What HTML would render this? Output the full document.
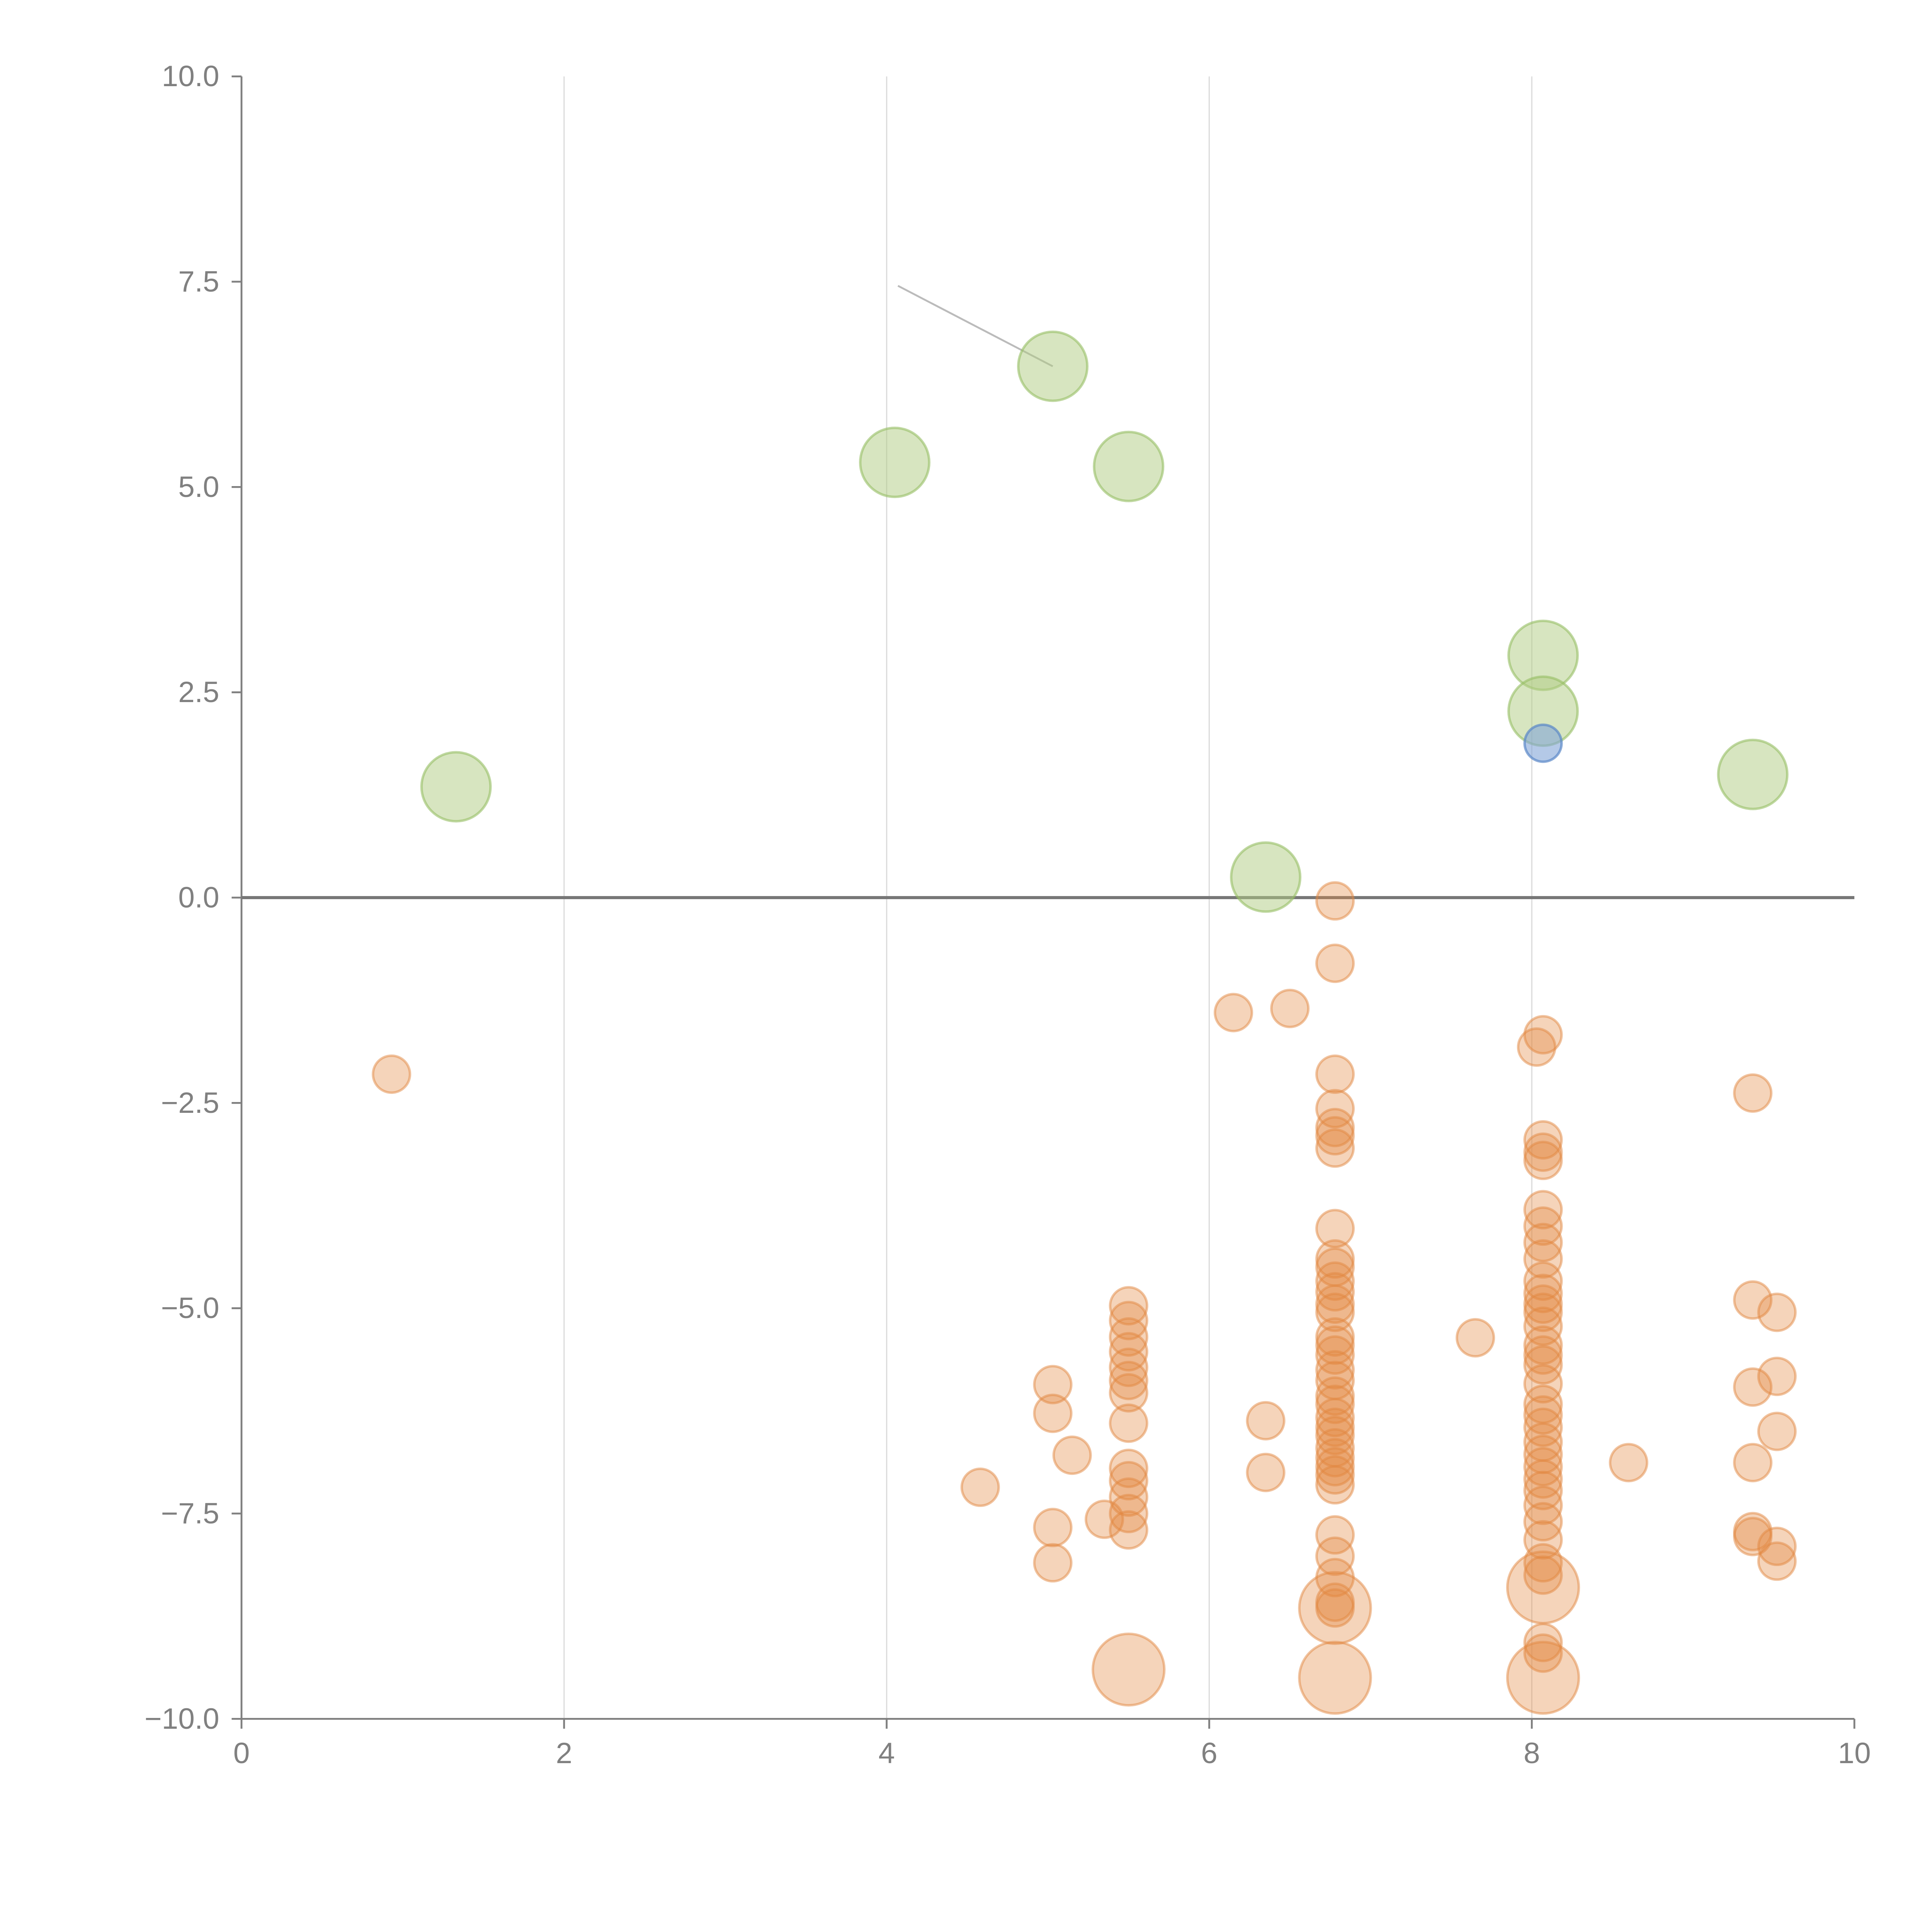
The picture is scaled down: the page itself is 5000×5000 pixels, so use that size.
<!DOCTYPE html>
<html><head><meta charset="utf-8"><style>
html,body{margin:0;padding:0;background:#fff}
svg{display:block}
text{font-family:"Liberation Sans",sans-serif;fill:#808080}
</style></head><body>
<svg id="chart" width="5000" height="5000" viewBox="0 0 1568 1568" xmlns="http://www.w3.org/2000/svg">
<g id="grid"></g>
<g id="axes"></g>
<g id="marks"></g>
</svg>
<script>
const xTicks=[0,2,4,6,8,10];
const yTicks=[-10,-7.5,-5,-2.5,0,2.5,5,7.5,10];
const greenX=[1.33,4.05,5.03,5.5,6.35,8.07,8.07,9.37];
const greenY=[1.35,5.3,6.47,5.25,0.25,2.95,2.27,1.5];
const blueX=[8.07];
const blueY=[1.88];
const bigX=[5.5,6.78,6.78,8.07,8.07];
const bigY=[-9.4,-8.65,-9.5,-8.4,-9.5];
const col678Y=[-0.04,-0.8,-2.15,-2.57,-2.8,-2.9,-3.05,-4.03,-4.4,-4.5,-4.67,-4.8,-4.95,-5.05,-5.35,-5.45,-5.57,-5.75,-5.88,-6.07,-6.17,-6.33,-6.45,-6.55,-6.7,-6.82,-6.93,-7.03,-7.15,-7.76,-8.02,-8.28,-8.58,-8.65];
const col55Y=[-4.97,-5.15,-5.35,-5.53,-5.72,-5.88,-6.03,-6.4,-6.95,-7.1,-7.3,-7.5,-7.7];
const col807Y=[-1.67,-2.95,-3.1,-3.2,-3.8,-4.0,-4.2,-4.4,-4.67,-4.82,-4.95,-5.05,-5.22,-5.45,-5.57,-5.69,-5.92,-6.17,-6.3,-6.45,-6.63,-6.78,-6.93,-7.08,-7.22,-7.4,-7.6,-7.82,-8.1,-8.25,-9.07,-9.2];
const col937Y=[-2.38,-4.9,-5.96,-6.88,-7.72,-7.78];
const col952Y=[-5.05,-5.83,-6.5,-7.9,-8.08];
const col503Y=[-5.93,-6.28,-7.67,-8.1];
const looseX=[0.93,5.15,4.58,5.35,6.15,6.5,6.35,6.35,7.65,8.6,8.03];
const looseY=[-2.15,-6.79,-7.18,-7.57,-1.4,-1.35,-6.37,-7.0,-5.36,-6.88,-1.82];
const columnX=[6.78,5.5,8.07,9.37,9.52,5.03];
const columnY=[col678Y,col55Y,col807Y,col937Y,col952Y,col503Y];
const leaderFrom=[4.07,7.45];
const leaderTo=[5.03,6.47];

const X0=196,X1=1505,Y0=1395,Y1=62;
const sx=v=>X0+(v-0)/(10-0)*(X1-X0);
const sy=v=>Y0-(v+10)/20*(Y0-Y1);
const NS="http://www.w3.org/2000/svg";
function mk(parent,tag,attrs){const e=document.createElementNS(NS,tag);for(const k in attrs)e.setAttribute(k,attrs[k]);parent.appendChild(e);return e;}
const grid=document.getElementById('grid'),axes=document.getElementById('axes'),marks=document.getElementById('marks');

xTicks.forEach(t=>{
  if(t>0&&t<10){const g=mk(grid,'line',{x1:sx(t),x2:sx(t),y1:Y1,y2:Y0,stroke:'#dcdcdc','stroke-width':1});
  
  }
  const tk=mk(axes,'line',{x1:sx(t),x2:sx(t),y1:Y0,y2:Y0+8,stroke:'#808080','stroke-width':1.5});
  
  
  const tx=mk(axes,'text',{x:sx(t),y:Y0+36,'text-anchor':'middle','font-size':24});
  tx.textContent=String(t);
  
  
});
yTicks.forEach(t=>{
  const tk=mk(axes,'line',{x1:X0-8,x2:X0,y1:sy(t),y2:sy(t),stroke:'#808080','stroke-width':1.5});
  
  
  const tx=mk(axes,'text',{x:X0-18,y:sy(t)+8,'text-anchor':'end','font-size':24});
  tx.textContent=t.toFixed(1).replace('-','\u2212');
  
  
});
const ya=mk(axes,'line',{x1:X0,x2:X0,y1:Y1,y2:Y0,stroke:'#808080','stroke-width':1.5});


const xa=mk(axes,'line',{x1:X0,x2:X1,y1:Y0,y2:Y0,stroke:'#808080','stroke-width':1.5});


const zl=mk(axes,'line',{x1:X0,x2:X1,y1:sy(0),y2:sy(0),stroke:'#777','stroke-width':2.5});



const ll=mk(marks,'line',{x1:sx(leaderFrom[0]),y1:sy(leaderFrom[1]),x2:sx(leaderTo[0]),y2:sy(leaderTo[1]),stroke:'#bbb','stroke-width':1.5});



function dot(x,y,r,fill,stroke,name){
  const c=mk(marks,'circle',{cx:sx(x),cy:sy(y),r:r,fill:fill,stroke:stroke,'stroke-width':2});
  
  
}
const OF='rgba(226,135,65,0.36)',OS='rgba(226,135,65,0.5)';
columnX.forEach((x,i)=>columnY[i].forEach(y=>dot(x,y,15,OF,OS,'orange-bubble')));
looseX.forEach((x,i)=>dot(x,looseY[i],15,OF,OS,'orange-bubble'));
bigX.forEach((x,i)=>dot(x,bigY[i],29,OF,OS,'orange-large-bubble'));
greenX.forEach((x,i)=>dot(x,greenY[i],28,'rgba(176,204,130,0.5)','rgba(150,190,100,0.6)','green-bubble'));
blueX.forEach((x,i)=>dot(x,blueY[i],15,'rgba(130,165,215,0.6)','rgba(90,135,200,0.7)','blue-bubble'));
</script>
</body></html>
